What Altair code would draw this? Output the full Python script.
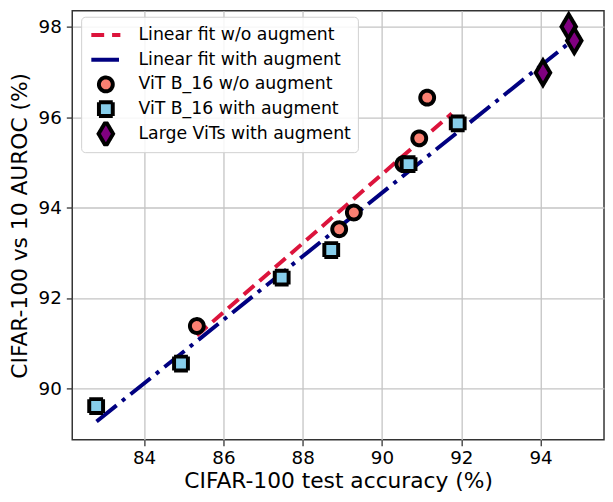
import altair as alt
import pandas as pd

# ---- data ----
series_names = [
    "Linear fit w/o augment",
    "Linear fit with augment",
    "ViT B_16 w/o augment",
    "ViT B_16 with augment",
    "Large ViTs with augment",
]

noaug_x = [85.33, 88.92, 89.29, 90.54, 90.94, 91.14]
noaug_y = [91.38, 93.52, 93.89, 94.96, 95.53, 96.43]

aug_x = [82.79, 84.93, 87.47, 88.72, 90.67, 91.91]
aug_y = [89.61, 90.55, 92.45, 93.06, 94.96, 95.86]

large_x = [94.06, 94.71, 94.85]
large_y = [96.98, 98.00, 97.69]

fit_noaug_x = [85.33, 91.76]
fit_noaug_y = [91.17, 96.08]

fit_aug_x = [82.80, 94.85]
fit_aug_y = [89.27, 97.73]

x_ticks = [84, 86, 88, 90, 92, 94]
y_ticks = [90, 92, 94, 96, 98]

# ---- tables ----
points = pd.DataFrame({
    "x": noaug_x + aug_x + large_x,
    "y": noaug_y + aug_y + large_y,
    "series": [series_names[2]] * len(noaug_x)
    + [series_names[3]] * len(aug_x)
    + [series_names[4]] * len(large_x),
})
fit_noaug = pd.DataFrame({"x": fit_noaug_x, "y": fit_noaug_y})
fit_aug = pd.DataFrame({"x": fit_aug_x, "y": fit_aug_y})

FONT = "DejaVu Sans"
fill_range = ["#DC143C", "#000080", "#FA8072", "#87CEEB", "#800080"]
stroke_range = ["#DC143C", "#000080", "black", "black", "black"]
shape_range = [
    "M-2.1,0H2.1",
    "M-2.1,0H2.1",
    "circle",
    "square",
    "M0,-1.78L1.05,0L0,1.78L-1.05,0Z",
]
dash_range = [[13, 8], [28, 9, 4, 8], [1, 0], [1, 0], [1, 0]]
width_range = [4, 4, 2.5, 2.5, 2.5]

x_scale = alt.Scale(domain=[82.187, 95.60], nice=False, zero=False)
y_scale = alt.Scale(domain=[88.864, 98.350], nice=False, zero=False)

x_enc = alt.X("x:Q", scale=x_scale,
              axis=alt.Axis(values=x_ticks, title="CIFAR-100 test accuracy (%)"))
y_enc = alt.Y("y:Q", scale=y_scale,
              axis=alt.Axis(values=y_ticks, title="CIFAR-100 vs 10 AUROC (%)"))

line_noaug = alt.Chart(fit_noaug).mark_line(
    color="#DC143C", strokeWidth=4, strokeDash=[14, 7]
).encode(x=x_enc, y=y_enc)

line_aug = alt.Chart(fit_aug).mark_line(
    color="#000080", strokeWidth=4, strokeDash=[26, 7, 4, 7]
).encode(x=x_enc, y=y_enc)

leg = alt.Legend(
    title=None,
    orient="none",
    legendX=9,
    legendY=6,
    fillColor="rgba(255,255,255,0.85)",
    strokeColor="#d0d0d0",
    cornerRadius=4,
    padding=6,
    symbolSize=196,
    symbolOffset=10,
    labelOffset=24,
    labelFont=FONT,
    labelFontSize=17.5,
    labelColor="black",
    labelLimit=400,
    rowPadding=0,
    clipHeight=24.9,
    gridAlign="all",
    symbolOpacity=1,
)

pts = alt.Chart(points).mark_point(filled=True, size=196, opacity=1).encode(
    x=x_enc,
    y=y_enc,
    fill=alt.Fill("series:N", scale=alt.Scale(domain=series_names, range=fill_range),
                  legend=leg),
    stroke=alt.Stroke("series:N", scale=alt.Scale(domain=series_names, range=stroke_range),
                      legend=leg),
    shape=alt.Shape("series:N", scale=alt.Scale(domain=series_names, range=shape_range),
                    legend=leg),
    strokeDash=alt.StrokeDash("series:N", scale=alt.Scale(domain=series_names, range=dash_range),
                              legend=leg),
    strokeWidth=alt.StrokeWidth("series:N", scale=alt.Scale(domain=series_names, range=width_range),
                                legend=leg),
)

chart = alt.layer(line_noaug, line_aug, pts).properties(
    width=538,
    height=434,
    autosize=alt.AutoSizeParams(type="none"),
    padding={"left": 65, "top": 0, "right": 1, "bottom": 52},
).configure_view(
    stroke="#333333", strokeWidth=1.5
).configure_axis(
    domain=False,
    grid=True,
    gridColor="#c4c4c4",
    gridWidth=1.3,
    tickColor="#333333",
    tickWidth=1.3,
    tickSize=6,
    labelFont=FONT,
    labelFontSize=18.5,
    labelColor="black",
    titleFont=FONT,
    titleFontSize=22,
    titleFontWeight="normal",
    titleColor="black",
).configure_axisX(
    labelPadding=3, titlePadding=4
).configure_axisY(
    labelPadding=5, titlePadding=7
)

chart.save("out.html", embed_options={"renderer": "svg", "actions": False})
